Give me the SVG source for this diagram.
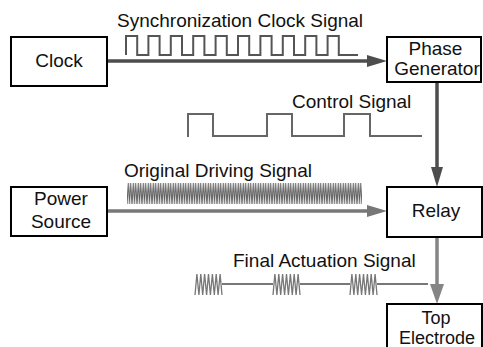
<svg xmlns="http://www.w3.org/2000/svg" width="483" height="347" viewBox="0 0 483 347">
<style>
.box{fill:#fff;stroke:#000;stroke-width:2}
.lbl{font-family:"Liberation Sans",Arial,sans-serif;font-size:19px;fill:#111}
.mid{text-anchor:middle}
.sig{fill:none;stroke-width:2;stroke-linejoin:miter}
.burst{fill:none;stroke:#777;stroke-width:1.3}
</style>
<defs>
<marker id="ahDark" markerUnits="userSpaceOnUse" markerWidth="20" markerHeight="12" refX="10" refY="6" orient="auto">
<path d="M0,0 L20,6 L0,12 z" fill="#4d4d4d"/>
</marker>
<marker id="ahMid" markerUnits="userSpaceOnUse" markerWidth="20" markerHeight="12" refX="10" refY="6" orient="auto">
<path d="M0,0 L20,6 L0,12 z" fill="#777"/>
</marker>
<marker id="ahLight" markerUnits="userSpaceOnUse" markerWidth="20" markerHeight="14" refX="10" refY="7" orient="auto">
<path d="M0,0 L20,7 L0,14 z" fill="#858585"/>
</marker>
<pattern id="zig" patternUnits="userSpaceOnUse" x="127" y="183" width="2.5" height="21">
<path d="M0,21 L1.25,0 L2.5,21" fill="none" stroke="#5e5e5e" stroke-width="1"/>
</pattern>
</defs>

<g id="connectors">
<line x1="107" y1="61" x2="377" y2="61" stroke="#4d4d4d" stroke-width="3.5" marker-end="url(#ahDark)"/>
<line x1="437" y1="82" x2="437" y2="177" stroke="#4d4d4d" stroke-width="3.5" marker-end="url(#ahDark)"/>
<line x1="107" y1="211" x2="377" y2="211" stroke="#777" stroke-width="3.5" marker-end="url(#ahMid)"/>
<line x1="437" y1="237" x2="437" y2="294" stroke="#858585" stroke-width="3.5" marker-end="url(#ahLight)"/>
</g>

<g id="signals">
<path class="sig" stroke="#555" d="M126,55 V36 H137.2 V55 H148.4 V36 H159.6 V55 H170.8 V36 H182 V55 H193.2 V36 H204.4 V55 H215.6 V36 H226.8 V55 H238 V36 H249.2 V55 H260.4 V36 H271.6 V55 H282.8 V36 H294 V55 H305.2 V36 H316.4 V55 H327.6 V36 H338.8 V55 H358"/>
<path class="sig" stroke="#666" d="M188,137 V114 H213 V136 H267 V114 H292 V136 H344 V114 H370 V136 H422"/>
<rect x="127" y="183" width="235" height="21" fill="url(#zig)"/>
<g id="final-signal">
<path fill="none" stroke="#777" stroke-width="2" d="M222,284 H273 M300,284 H350 M377,284 H428"/>
<polyline class="burst" points="195,295 196.9,274 198.9,295 200.8,274 202.7,295 204.6,274 206.6,295 208.5,274 210.4,295 212.4,274 214.3,295 216.2,274 218.1,295 220.1,274 222,295"/>
<polyline class="burst" points="273,295 274.9,274 276.9,295 278.8,274 280.7,295 282.6,274 284.6,295 286.5,274 288.4,295 290.4,274 292.3,295 294.2,274 296.1,295 298.1,274 300,295"/>
<polyline class="burst" points="350,295 351.9,274 353.9,295 355.8,274 357.7,295 359.6,274 361.6,295 363.5,274 365.4,295 367.4,274 369.3,295 371.2,274 373.1,295 375.1,274 377,295"/>
</g>
<text class="lbl" x="117" y="27">Synchronization Clock Signal</text>
<text class="lbl" x="292" y="108">Control Signal</text>
<text class="lbl" x="124" y="177">Original Driving Signal</text>
<text class="lbl" x="233" y="267">Final Actuation Signal</text>
</g>

<g id="clock">
<rect class="box" x="11" y="37" width="96" height="49"/>
<text class="lbl mid" x="59" y="67">Clock</text>
</g>
<g id="phase-generator">
<rect class="box" x="387" y="37" width="94" height="45"/>
<text class="lbl mid" x="435.5" y="55">Phase</text>
<text class="lbl mid" x="437" y="75">Generator</text>
</g>
<g id="power-source">
<rect class="box" x="11" y="187" width="96" height="49"/>
<text class="lbl mid" x="61" y="205">Power</text>
<text class="lbl mid" x="61" y="228">Source</text>
</g>
<g id="relay">
<rect class="box" x="387" y="187" width="95" height="50"/>
<text class="lbl mid" x="436" y="217">Relay</text>
</g>
<g id="top-electrode">
<rect class="box" x="387" y="304" width="95" height="60"/>
<text class="lbl mid" x="436" y="324" style="font-size:18px">Top</text>
<text class="lbl mid" x="437" y="343.5" style="font-size:18px">Electrode</text>
</g>
</svg>
